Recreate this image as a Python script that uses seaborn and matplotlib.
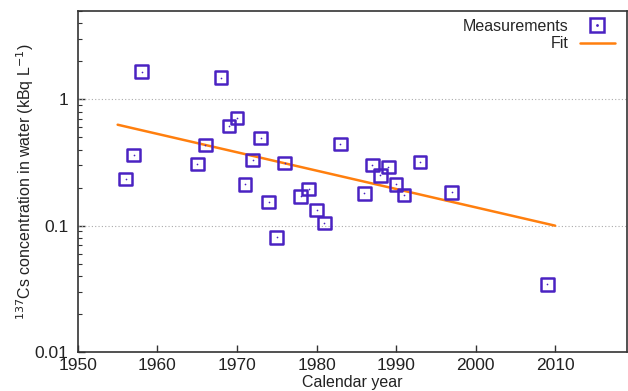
import matplotlib
matplotlib.use("Agg")
import matplotlib.pyplot as plt
import seaborn as sns
import pandas as pd
from matplotlib.lines import Line2D
from matplotlib.ticker import LogLocator, FixedLocator, NullFormatter

years = [1956, 1957, 1958, 1965, 1966, 1968, 1969, 1970, 1971, 1972, 1973, 1974,
         1975, 1976, 1978, 1979, 1980, 1981, 1983, 1986, 1987, 1988, 1989, 1990,
         1991, 1993, 1997, 2009]
concentration = [0.234, 0.363, 1.65, 0.308, 0.435, 1.48, 0.616, 0.713, 0.213, 0.331,
                 0.495, 0.154, 0.081, 0.313, 0.171, 0.195, 0.133, 0.105, 0.443, 0.181,
                 0.302, 0.251, 0.291, 0.213, 0.175, 0.319, 0.184, 0.0343]
fit_years = [1955, 2010]
fit_values = [0.63, 0.10]
x_ticks = [1950, 1960, 1970, 1980, 1990, 2000, 2010]
y_ticks = [0.01, 0.1, 1]
y_tick_labels = ["0.01", "0.1", "1"]

sns.set_theme(style="white")
plt.rcParams['font.family'] = ['Liberation Sans', 'DejaVu Sans']

marker_color = '#4a22c2'
fit_color = '#ff7f0e'

df = pd.DataFrame({"year": years, "conc": concentration})
fit_df = pd.DataFrame({"year": fit_years, "conc": fit_values})

fig = plt.figure(figsize=(6.28, 3.91), dpi=100)
ax = fig.add_axes([0.124, 0.0997, 0.874, 0.872])

ax.set_yscale('log')
sns.lineplot(data=fit_df, x="year", y="conc", ax=ax, color=fit_color, linewidth=1.8, zorder=2)
sns.scatterplot(data=df, x="year", y="conc", ax=ax, marker='s', s=85,
                facecolor='none', edgecolor=marker_color, linewidth=1.8, zorder=3)
sns.scatterplot(data=df, x="year", y="conc", ax=ax, marker='.', s=6,
                color=marker_color, linewidth=0, zorder=4)

ax.set_xlim(1950, 2019)
ax.set_ylim(0.01, 5)
ax.set_xticks(x_ticks)
ax.set_xticklabels([str(t) for t in x_ticks])
ax.yaxis.set_major_locator(FixedLocator(y_ticks))
ax.set_yticklabels(y_tick_labels)
ax.yaxis.set_minor_locator(LogLocator(base=10, subs=range(2, 10), numticks=20))
ax.yaxis.set_minor_formatter(NullFormatter())

ax.tick_params(axis='both', which='major', direction='in', length=5, width=1,
               labelsize=12.5, color='#333333', labelcolor='#222222',
               left=True, bottom=True, top=False, right=False)
ax.tick_params(axis='y', which='major', pad=7)
ax.tick_params(axis='x', which='major', pad=4)
ax.tick_params(axis='y', which='minor', direction='in', length=3, width=0.8,
               color='#333333', left=True, right=False)
for s in ax.spines.values():
    s.set_color('#333333')
    s.set_linewidth(1.2)

for yv in [0.1, 1]:
    ax.axhline(yv, color='#aaaaaa', linestyle=(0, (1, 2)), linewidth=0.8, zorder=1)

ax.set_xlabel("Calendar year", fontsize=11.5, color='#222222', labelpad=1.5)
ax.set_ylabel(r"$^{137}$Cs concentration in water (kBq L$^{-1}$)", fontsize=11.5,
              color='#222222', labelpad=-1)

sq = Line2D([], [], marker='s', linestyle='none', markersize=10, markerfacecolor='none',
            markeredgecolor=marker_color, markeredgewidth=1.8)
dot = Line2D([], [], marker='.', linestyle='none', markersize=2, color=marker_color)
fl = Line2D([], [], color=fit_color, linewidth=1.8)
ax.legend([(sq, dot), fl], ["Measurements", "Fit"], loc='upper right', frameon=False,
          markerfirst=False, fontsize=11.5, handlelength=2.2, labelspacing=0.15,
          borderaxespad=0.3, handletextpad=0.7, borderpad=0.2,
          bbox_to_anchor=(0.993, 1.0))

fig.savefig("out.png", dpi=100)
